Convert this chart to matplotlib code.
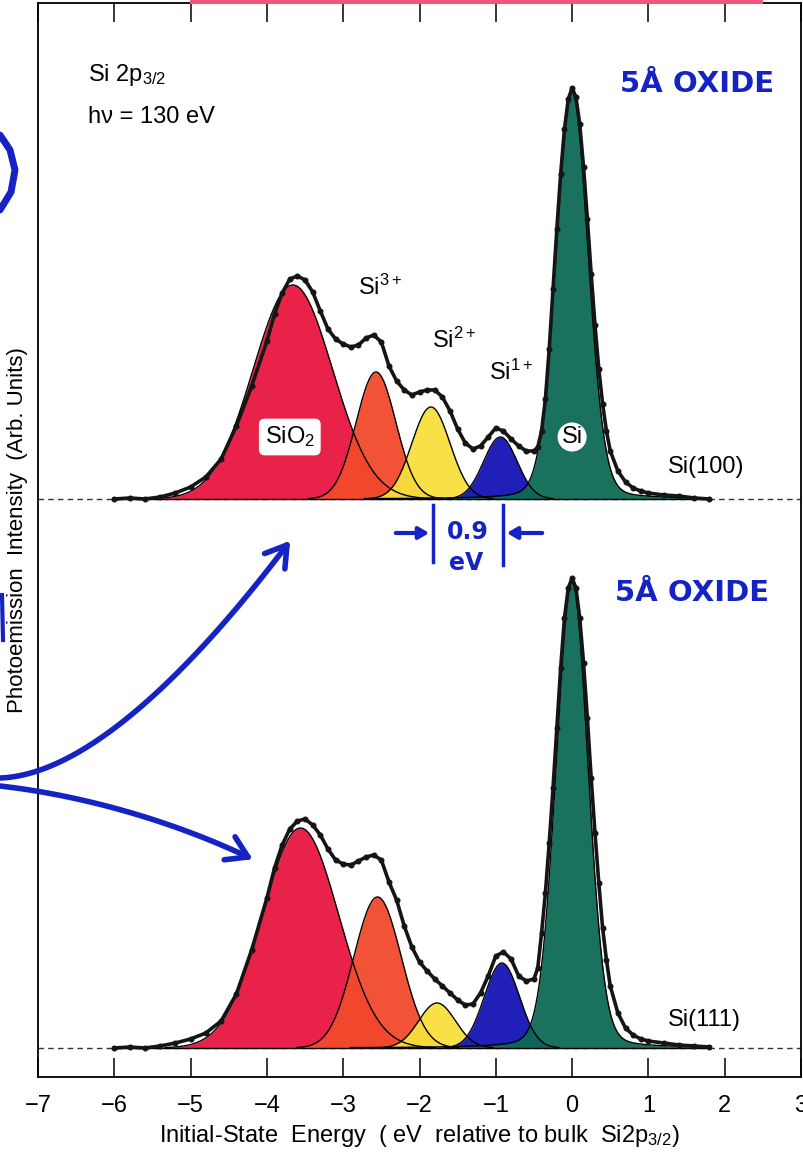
import matplotlib.pyplot as plt
import numpy as np

plt.rcParams['font.family'] = ['Liberation Sans', 'DejaVu Sans']
plt.rcParams['mathtext.fontset'] = 'custom'
plt.rcParams['mathtext.rm'] = 'Liberation Sans'
plt.rcParams['mathtext.it'] = 'Liberation Sans:italic'

# fitted components: SiO2, Si3+, Si2+, Si1+, Si (bulk)
comp_names = ['SiO2', 'Si3+', 'Si2+', 'Si1+', 'Si']
comp_colors = ['#e8163f', '#f24a2c', '#f7e03c', '#1414b4', '#0d6a55']
eta = [0.0, 0.0, 0.0, 0.0, 0.12]

pos_100 = [-3.66, -2.57, -1.85, -0.94, 0.0]
height_100 = [2.14, 1.27, 0.92, 0.62, 4.08]
sigma_100 = [0.52, 0.26, 0.25, 0.22, 0.21]

pos_111 = [-3.56, -2.55, -1.77, -0.92, 0.0]
height_111 = [2.20, 1.51, 0.45, 0.85, 4.66]
sigma_111 = [0.50, 0.31, 0.24, 0.23, 0.21]

e_100 = [-6.0, -5.8, -5.6, -5.4, -5.2, -5.0, -4.8, -4.6, -4.4, -4.2, -4.0, -3.9, -3.8, -3.7,
         -3.6, -3.5, -3.4, -3.3, -3.2, -3.1, -3.0, -2.9, -2.8, -2.7, -2.6, -2.5, -2.4, -2.3,
         -2.2, -2.1, -2.0, -1.9, -1.8, -1.7, -1.6, -1.5, -1.4, -1.3, -1.2, -1.1, -1.0, -0.9,
         -0.8, -0.7, -0.6, -0.5, -0.45, -0.4, -0.35, -0.3, -0.25, -0.2, -0.15, -0.1, -0.05,
         0.0, 0.05, 0.1, 0.15, 0.2, 0.25, 0.3, 0.35, 0.4, 0.45, 0.5, 0.6, 0.7, 0.8, 0.9, 1.0,
         1.2, 1.4, 1.6, 1.8]
i_100 = [0.0, 0.01, 0.0, 0.02, 0.06, 0.12, 0.22, 0.40, 0.73, 1.13, 1.58, 1.85, 2.06, 2.20,
         2.23, 2.19, 2.07, 1.88, 1.70, 1.60, 1.55, 1.52, 1.54, 1.61, 1.64, 1.57, 1.33, 1.18,
         1.09, 1.04, 1.07, 1.09, 1.09, 1.02, 0.88, 0.70, 0.56, 0.50, 0.53, 0.62, 0.71, 0.68,
         0.60, 0.53, 0.48, 0.48, 0.52, 0.68, 1.00, 1.50, 2.10, 2.70, 3.25, 3.70, 4.00,
         4.11, 4.02, 3.75, 3.32, 2.80, 2.25, 1.74, 1.30, 0.95, 0.68, 0.48, 0.28, 0.17, 0.11,
         0.08, 0.06, 0.04, 0.03, 0.01, 0.0]

e_111 = e_100
i_111 = [0.0, 0.01, 0.0, 0.02, 0.05, 0.09, 0.15, 0.27, 0.54, 0.98, 1.50, 1.80, 2.03, 2.19,
         2.27, 2.29, 2.23, 2.13, 1.99, 1.88, 1.84, 1.83, 1.87, 1.91, 1.93, 1.88, 1.66, 1.48,
         1.22, 1.01, 0.86, 0.77, 0.69, 0.62, 0.55, 0.48, 0.43, 0.44, 0.55, 0.72, 0.92, 0.96,
         0.89, 0.72, 0.67, 0.69, 0.80, 1.15, 1.55, 2.05, 2.60, 3.20, 3.80, 4.30, 4.60,
         4.70, 4.60, 4.30, 3.85, 3.30, 2.70, 2.15, 1.65, 1.20, 0.88, 0.62, 0.35, 0.20, 0.13,
         0.09, 0.07, 0.05, 0.03, 0.02, 0.01]

offset_100 = 5.49
blue_ink = '#1522c4'


def peak(x, x0, h, s, n):
    g = np.exp(-(x - x0) ** 2 / (2 * s * s))
    hw = s * 1.1774
    l = 1.0 / (1.0 + ((x - x0) / hw) ** 2)
    return h * ((1 - n) * g + n * l)


fig = plt.figure(figsize=(8.04, 11.6), dpi=100)
ax = fig.add_axes([38 / 804, 1 - 1077 / 1160, 763 / 804, 1074 / 1160])
ax.set_xlim(-7, 3)
ax.set_ylim(-0.29, 10.45)

xx = np.linspace(-6.0, 1.8, 800)
for base, pos, hts, sig in [(offset_100, pos_100, height_100, sigma_100),
                            (0.0, pos_111, height_111, sigma_111)]:
    ax.axhline(base, color='#333333', lw=1.0, ls=(0, (4, 3)), zorder=1)
    curves = []
    for k in range(len(pos)):
        yy = peak(xx, pos[k], hts[k], sig[k], eta[k])
        m = yy > 0.004
        ax.fill_between(xx[m], base, base + yy[m], color=comp_colors[k], lw=0, alpha=0.95, zorder=2 + k * 0.1)
        curves.append((xx[m], base + yy[m]))
    for cx, cy in curves:
        ax.plot(cx, cy, color='black', lw=1.0, zorder=3)
    ax.plot([xx[0], xx[-1]], [base, base], color='black', lw=1.0, zorder=3)

ax.plot(e_100, np.array(i_100) + offset_100, color='#151515', lw=2.6, marker='o', ms=3.3, zorder=5)
ax.plot(e_111, i_111, color='#151515', lw=2.6, marker='o', ms=3.3, zorder=5)

ax.set_xticks(np.arange(-7, 4, 1))
ax.set_xticklabels([str(v).replace('-', '\u2212') for v in range(-7, 4)], fontsize=17)
ax.set_yticks([])
ax.tick_params(axis='x', direction='in', length=14, width=1.1, top=True, pad=13)
for sp in ax.spines.values():
    sp.set_linewidth(1.3)
ax.set_xlabel('Initial-State  Energy  ( eV  relative to bulk  Si2p$_{3/2}$)', fontsize=17, labelpad=4)

fig.text(18 / 804, 1 - 530 / 1160, 'Photoemission  Intensity  (Arb. Units)', rotation=90,
         fontsize=16, ha='center', va='center')

# labels
fs = 17
ax.text(-6.34, 9.73, 'Si 2p$_{3/2}$', fontsize=fs, va='center')
ax.text(-6.34, 9.31, 'h\u03bd = 130 eV', fontsize=fs, va='center')
ax.text(-2.80, 7.61, 'Si$^{3+}$', fontsize=fs, va='center')
ax.text(-1.84, 7.08, 'Si$^{2+}$', fontsize=fs, va='center')
ax.text(-1.09, 6.76, 'Si$^{1+}$', fontsize=fs, va='center')
ax.text(-3.70, 6.11, 'SiO$_2$', fontsize=fs, ha='center', va='center', zorder=6,
        bbox=dict(boxstyle='round,pad=0.25', fc='white', ec='none'))
ax.text(0.0, 6.11, 'Si', fontsize=fs, ha='center', va='center', zorder=6,
        bbox=dict(boxstyle='circle,pad=0.15', fc='white', ec='none'))
ax.text(1.26, 5.81, 'Si(100)', fontsize=fs, va='center')
ax.text(1.26, 0.28, 'Si(111)', fontsize=fs, va='center')

# hand-drawn annotations, in pixel coordinates of the page
ov = fig.add_axes([0, 0, 1, 1], zorder=10)
ov.set_xlim(0, 804)
ov.set_ylim(1160, 0)
ov.axis('off')
ov.patch.set_alpha(0)

ov.fill_between([190, 763], 0, 4, color='#f4557c', lw=0)

ov.text(620, 84, '5Å OXIDE', fontsize=21, fontweight='bold', color=blue_ink,
        family='DejaVu Sans', va='center')
ov.text(615, 593, '5Å OXIDE', fontsize=21, fontweight='bold', color=blue_ink,
        family='DejaVu Sans', va='center')


def hand_arrow(p, wing=24):
    p = np.array(p, float)
    t = np.linspace(0, 1, 60)[:, None]
    c = ((1 - t) ** 3) * p[0] + 3 * ((1 - t) ** 2) * t * p[1] + 3 * (1 - t) * t * t * p[2] + (t ** 3) * p[3]
    ov.plot(c[:, 0], c[:, 1], color=blue_ink, lw=4, solid_capstyle='round', solid_joinstyle='round')
    d = p[3] - p[2]
    d = d / np.hypot(*d)
    for a in (np.radians(32), -np.radians(32)):
        r = np.array([[np.cos(a), -np.sin(a)], [np.sin(a), np.cos(a)]])
        w = r @ (-d) * wing
        ov.plot([p[3][0], p[3][0] + w[0]], [p[3][1], p[3][1] + w[1]], color=blue_ink, lw=4,
                solid_capstyle='round')


hand_arrow([(0, 778), (90, 775), (200, 660), (287, 545)])
hand_arrow([(0, 786), (80, 795), (170, 820), (248, 857)])
ov.plot([0, 10, 15, 11, 0], [135, 150, 170, 192, 210], color=blue_ink, lw=5, solid_capstyle='round')
ov.plot([2, 3], [595, 640], color=blue_ink, lw=3)

# 0.9 eV spacing mark
ov.plot([433, 433], [505, 562], color=blue_ink, lw=2.5)
ov.plot([503, 503], [505, 565], color=blue_ink, lw=2.5)
ov.annotate('', xy=(432, 533), xytext=(393, 533),
            arrowprops=dict(arrowstyle='-|>,head_length=0.6,head_width=0.35', color=blue_ink, lw=3))
ov.annotate('', xy=(504, 533), xytext=(545, 533),
            arrowprops=dict(arrowstyle='-|>,head_length=0.6,head_width=0.35', color=blue_ink, lw=3))
ov.text(468, 532, '0.9', fontsize=17, fontweight='bold', color=blue_ink, family='DejaVu Sans',
        ha='center', va='center')
ov.text(466, 563, 'eV', fontsize=17, fontweight='bold', color=blue_ink, family='DejaVu Sans',
        ha='center', va='center')

fig.savefig('out.png', dpi=100)
